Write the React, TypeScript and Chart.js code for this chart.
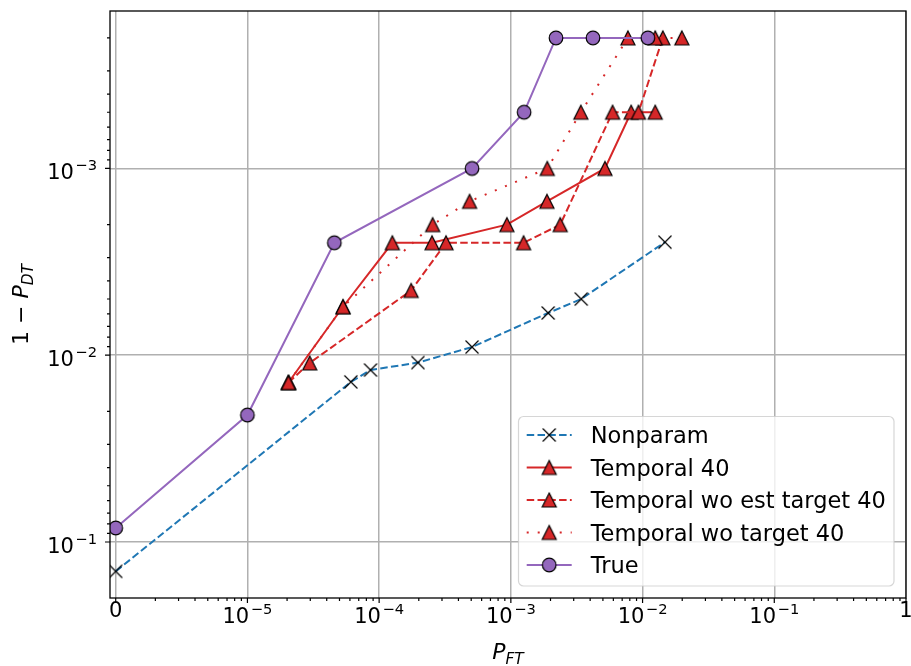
import { useEffect, useRef } from 'react';
import { Chart, registerables } from 'chart.js';

Chart.register(...registerables);

// ---------------- data ----------------
const seriesLabels = ['Nonparam', 'Temporal 40', 'Temporal wo est target 40', 'Temporal wo target 40', 'True'];

const nonparamX = [0, 6.1e-5, 8.6e-5, 1.97e-4, 5.07e-4, 1.92e-3, 3.42e-3, 1.48e-2];
const nonparamY = [0.1436, 0.0139, 0.012, 0.01095, 0.00904, 0.00594, 0.005, 0.00248];

const temporalX = [2.05e-5, 5.32e-5, 1.26e-4, 2.52e-4, 9.33e-4, 1.88e-3, 5.18e-3, 8.19e-3, 1.247e-2];
const temporalY = [0.014, 0.0055, 0.0025, 0.0025, 0.002, 0.0015, 0.001, 0.0005, 0.0005];

const woEstTargetX = [2.05e-5, 2.97e-5, 1.75e-4, 3.22e-4, 1.25e-3, 2.37e-3, 5.92e-3, 9.31e-3, 1.425e-2];
const woEstTargetY = [0.014, 0.011, 0.0045, 0.0025, 0.0025, 0.002, 0.0005, 0.0005, 0.0002];

const woTargetX = [2.05e-5, 5.32e-5, 2.55e-4, 4.86e-4, 1.89e-3, 3.4e-3, 7.74e-3, 1.247e-2, 1.986e-2];
const woTargetY = [0.014, 0.0055, 0.002, 0.0015, 0.001, 0.0005, 0.0002, 0.0002, 0.0002];

const trueX = [0, 1.0e-5, 4.57e-5, 5.07e-4, 1.26e-3, 2.2e-3, 4.2e-3, 1.096e-2];
const trueY = [0.0841, 0.0209, 0.0025, 0.001, 0.0005, 0.0002, 0.0002, 0.0002];

const xTickValues = [0, 1e-5, 1e-4, 1e-3, 1e-2, 1e-1, 1];
const xTickLabels = ['0', '10^\u22125', '10^\u22124', '10^\u22123', '10^\u22122', '10^\u22121', '1'];
const yTickValues = [1e-3, 1e-2, 1e-1];
const yTickLabels = ['10^\u22123', '10^\u22122', '10^\u22121'];

// ---------------- style ----------------
const ZERO_AT = 1e-6; // log-axis position where P_FT = 0 is drawn
const X_MIN = 9.05e-7;
const X_MAX = 1;
const Y_MIN = 1.435e-4;
const Y_MAX = 0.1995;

const BLUE = '#1f77b4';
const RED = '#d62728';
const PURPLE = '#9467bd';
const GRID = '#b0b0b0';
const FONT = '"DejaVu Sans", "Liberation Sans", sans-serif';
const DASH = [7.5, 3.3];
const DOT = [2, 9];

function makeTriangle(): HTMLCanvasElement {
  const c = document.createElement('canvas');
  c.width = 20; c.height = 20;
  const g = c.getContext('2d')!;
  g.beginPath();
  g.moveTo(10, 3); g.lineTo(3, 17); g.lineTo(17, 17); g.closePath();
  g.fillStyle = RED; g.fill();
  g.lineWidth = 1.2; g.strokeStyle = '#000'; g.lineJoin = 'miter'; g.stroke();
  return c;
}
function makeCircle(): HTMLCanvasElement {
  const c = document.createElement('canvas');
  c.width = 20; c.height = 20;
  const g = c.getContext('2d')!;
  g.beginPath(); g.arc(10, 10, 6.8, 0, Math.PI * 2);
  g.fillStyle = PURPLE; g.fill();
  g.lineWidth = 1.2; g.strokeStyle = '#000'; g.stroke();
  return c;
}
function makeX(): HTMLCanvasElement {
  const c = document.createElement('canvas');
  c.width = 20; c.height = 20;
  const g = c.getContext('2d')!;
  g.beginPath();
  g.moveTo(3.5, 3.5); g.lineTo(16.5, 16.5);
  g.moveTo(16.5, 3.5); g.lineTo(3.5, 16.5);
  g.lineWidth = 1.2; g.strokeStyle = '#000'; g.stroke();
  return c;
}

function logTicks(min: number, max: number) {
  const out: { value: number; major: boolean }[] = [];
  for (let e = -8; e <= 1; e++) {
    for (let k = 1; k <= 9; k++) {
      const v = k * Math.pow(10, e);
      if (v >= min * 0.99999 && v <= max * 1.00001) out.push({ value: v, major: k === 1 });
    }
  }
  return out;
}

function pts(xs: number[], ys: number[]) {
  return xs.map((x, i) => ({ x: x === 0 ? ZERO_AT : x, y: ys[i] }));
}

function drawPow(ctx: CanvasRenderingContext2D, label: string, x: number, baseline: number, align: 'center' | 'right', size: number) {
  const [base, exp] = label.split('^');
  const big = `${size}px ${FONT}`;
  const small = `${(size * 0.7).toFixed(1)}px ${FONT}`;
  const gap = exp ? 1.5 : 0;
  ctx.font = big;
  const wb = ctx.measureText(base).width;
  let we = 0;
  if (exp) { ctx.font = small; we = ctx.measureText(exp).width; }
  const total = wb + gap + we;
  const left = align === 'center' ? x - total / 2 : x - total;
  ctx.textAlign = 'left';
  ctx.textBaseline = 'alphabetic';
  ctx.fillStyle = '#000';
  ctx.font = big;
  ctx.fillText(base, left, baseline);
  if (exp) {
    ctx.font = small;
    ctx.fillText(exp, left + wb + gap, baseline - size * 0.45);
  }
}

export default function App() {
  const ref = useRef<HTMLCanvasElement>(null);

  useEffect(() => {
    const canvas = ref.current!;
    const mX = makeX();
    const mTri = makeTriangle();
    const mCirc = makeCircle();
    const xTicks = logTicks(X_MIN, X_MAX);
    const yTicks = logTicks(Y_MIN, Y_MAX);

    const legendItems = [
      { color: BLUE, dash: DASH, marker: mX },
      { color: RED, dash: [] as number[], marker: mTri },
      { color: RED, dash: DASH, marker: mTri },
      { color: RED, dash: DOT, marker: mTri },
      { color: PURPLE, dash: [] as number[], marker: mCirc },
    ];

    const decor = {
      id: 'decor',
      afterDraw(chart: any) {
        const ctx: CanvasRenderingContext2D = chart.ctx;
        const xs = chart.scales.x;
        const ys = chart.scales.y;
        const { left, right, top, bottom } = chart.chartArea;
        ctx.save();
        // frame
        ctx.strokeStyle = '#000';
        ctx.lineWidth = 1.3;
        ctx.strokeRect(left, top, right - left, bottom - top);
        // tick marks
        ctx.lineWidth = 1.2;
        ctx.beginPath();
        for (const t of xTicks) {
          const px = xs.getPixelForValue(t.value);
          const len = t.major ? 5 : 3;
          ctx.moveTo(px, bottom); ctx.lineTo(px, bottom + len);
        }
        for (const t of yTicks) {
          const py = ys.getPixelForValue(t.value);
          const len = t.major ? 5 : 3;
          ctx.moveTo(left, py); ctx.lineTo(left - len, py);
        }
        ctx.stroke();
        // tick labels
        const TS = 21;
        xTickValues.forEach((v, i) => {
          const px = xs.getPixelForValue(v === 0 ? ZERO_AT : v);
          const lab = xTickLabels[i];
          const base = lab.includes('^') ? 623 : 617;
          drawPow(ctx, lab, px, base, 'center', TS);
        });
        yTickValues.forEach((v, i) => {
          const py = ys.getPixelForValue(v);
          drawPow(ctx, yTickLabels[i], 97, py + 11, 'right', TS);
        });
        // axis titles
        const AS = 22;
        ctx.fillStyle = '#000';
        ctx.textBaseline = 'alphabetic';
        ctx.textAlign = 'left';
        {
          ctx.font = `italic ${AS}px ${FONT}`;
          const wP = ctx.measureText('P').width;
          ctx.font = `italic ${(AS * 0.7).toFixed(1)}px ${FONT}`;
          const wS = ctx.measureText('FT').width;
          const cx = (left + right) / 2;
          const x0 = cx - (wP + wS) / 2;
          ctx.font = `italic ${AS}px ${FONT}`;
          ctx.fillText('P', x0, 659);
          ctx.font = `italic ${(AS * 0.7).toFixed(1)}px ${FONT}`;
          ctx.fillText('FT', x0 + wP, 664);
        }
        {
          ctx.save();
          ctx.translate(28, (top + bottom) / 2);
          ctx.rotate(-Math.PI / 2);
          ctx.font = `${AS}px ${FONT}`;
          const w1 = ctx.measureText('1 \u2212 ').width;
          ctx.font = `italic ${AS}px ${FONT}`;
          const wP = ctx.measureText('P').width;
          ctx.font = `italic ${(AS * 0.7).toFixed(1)}px ${FONT}`;
          const wS = ctx.measureText('DT').width;
          const x0 = -(w1 + wP + wS) / 2;
          ctx.font = `${AS}px ${FONT}`;
          ctx.fillText('1 \u2212 ', x0, 0);
          ctx.font = `italic ${AS}px ${FONT}`;
          ctx.fillText('P', x0 + w1, 0);
          ctx.font = `italic ${(AS * 0.7).toFixed(1)}px ${FONT}`;
          ctx.fillText('DT', x0 + w1 + wP, 5);
          ctx.restore();
        }
        // legend
        const bx = 518.5, by = 416.5, bw = 375.5, bh = 169.5, r = 5;
        ctx.beginPath();
        ctx.moveTo(bx + r, by);
        ctx.arcTo(bx + bw, by, bx + bw, by + bh, r);
        ctx.arcTo(bx + bw, by + bh, bx, by + bh, r);
        ctx.arcTo(bx, by + bh, bx, by, r);
        ctx.arcTo(bx, by, bx + bw, by, r);
        ctx.closePath();
        ctx.fillStyle = 'rgba(255,255,255,0.8)';
        ctx.fill();
        ctx.strokeStyle = 'rgba(204,204,204,0.8)';
        ctx.lineWidth = 1.2;
        ctx.stroke();
        legendItems.forEach((it, i) => {
          const cy = 435 + i * 32.5;
          ctx.save();
          ctx.strokeStyle = it.color;
          ctx.lineWidth = 2;
          ctx.setLineDash(it.dash);
          ctx.beginPath();
          ctx.moveTo(526.7, cy); ctx.lineTo(571.7, cy);
          ctx.stroke();
          ctx.restore();
          ctx.drawImage(it.marker, 549.2 - it.marker.width / 2, cy - it.marker.height / 2);
          ctx.fillStyle = '#000';
          ctx.font = `22.5px ${FONT}`;
          ctx.textAlign = 'left';
          ctx.textBaseline = 'alphabetic';
          ctx.fillText(seriesLabels[i], 590.7, cy + 8);
        });
        ctx.restore();
      },
    };

    const common = { borderWidth: 2, pointRadius: 7, fill: false, tension: 0 };

    const chart = new Chart(canvas, {
      type: 'line',
      data: {
        datasets: [
          { ...common, label: seriesLabels[0], data: pts(nonparamX, nonparamY), borderColor: BLUE, borderDash: DASH, pointStyle: mX as any, order: 5 },
          { ...common, label: seriesLabels[1], data: pts(temporalX, temporalY), borderColor: RED, pointStyle: mTri as any, order: 4 },
          { ...common, label: seriesLabels[2], data: pts(woEstTargetX, woEstTargetY), borderColor: RED, borderDash: DASH, pointStyle: mTri as any, order: 3 },
          { ...common, label: seriesLabels[3], data: pts(woTargetX, woTargetY), borderColor: RED, borderDash: DOT, pointStyle: mTri as any, order: 2 },
          { ...common, label: seriesLabels[4], data: pts(trueX, trueY), borderColor: PURPLE, pointStyle: mCirc as any, order: 1 },
        ] as any,
      },
      options: {
        responsive: false,
        devicePixelRatio: 1,
        animation: false,
        events: [],
        layout: { autoPadding: false, padding: { top: 11, right: 5, left: 0, bottom: 0 } },
        plugins: { legend: { display: false }, tooltip: { enabled: false } },
        scales: {
          x: {
            type: 'logarithmic',
            min: X_MIN,
            max: X_MAX,
            afterBuildTicks: (s: any) => { s.ticks = xTicks.map((t) => ({ ...t })); },
            afterFit: (s: any) => { s.height = 68; s.paddingLeft = 0; s.paddingRight = 0; s.paddingTop = 0; s.paddingBottom = 0; },
            ticks: { display: false },
            border: { display: false },
            grid: {
              drawTicks: false,
              lineWidth: 1.5,
              color: (c: any) => (c.tick && c.tick.major ? GRID : 'rgba(0,0,0,0)'),
            },
          },
          y: {
            type: 'logarithmic',
            reverse: true,
            min: Y_MIN,
            max: Y_MAX,
            afterBuildTicks: (s: any) => { s.ticks = yTicks.map((t) => ({ ...t })); },
            afterFit: (s: any) => { s.width = 110; s.paddingTop = 0; s.paddingBottom = 0; s.paddingLeft = 0; s.paddingRight = 0; },
            ticks: { display: false },
            border: { display: false },
            grid: {
              drawTicks: false,
              lineWidth: 1.5,
              color: (c: any) => (c.tick && c.tick.major ? GRID : 'rgba(0,0,0,0)'),
            },
          },
        } as any,
      },
      plugins: [decor],
    });
    return () => chart.destroy();
  }, []);

  return (
    <div style={{ position: 'absolute', left: 0, top: 0, width: 911, height: 666, background: '#fff' }}>
      <canvas ref={ref} width={911} height={666} style={{ display: 'block', width: 911, height: 666 }} />
    </div>
  );
}
